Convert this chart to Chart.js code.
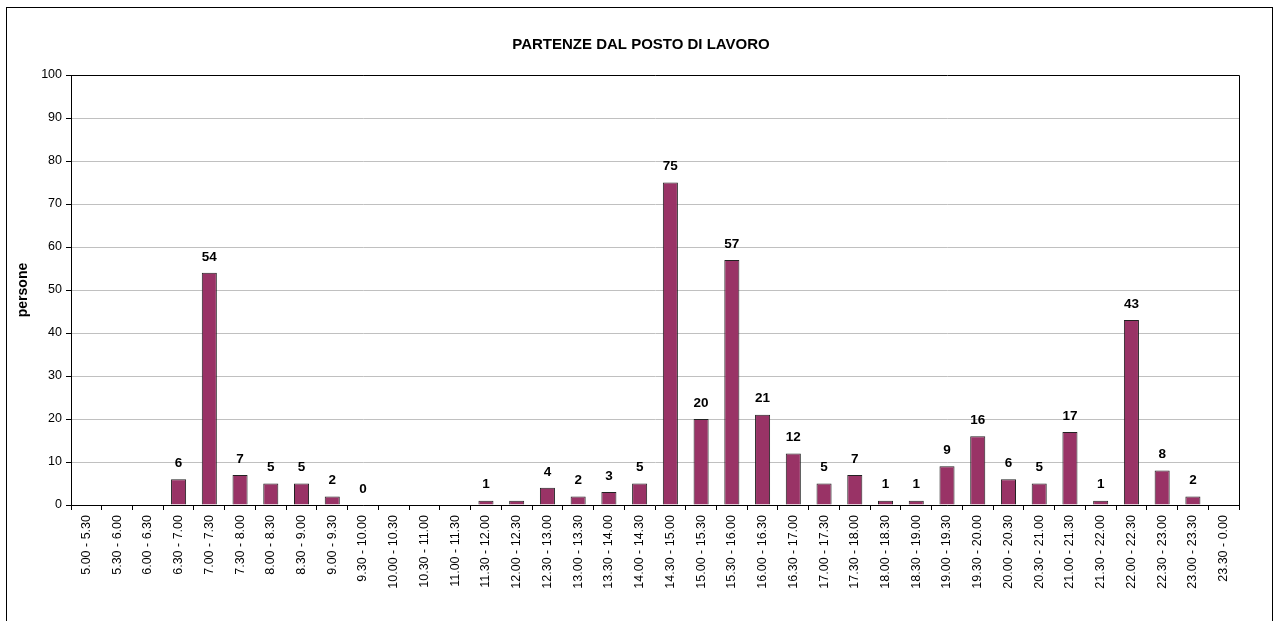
<!DOCTYPE html>
<html>
<head>
<meta charset="utf-8">
<script src="https://cdn.jsdelivr.net/npm/chart.js@4"></script>
<style>
  html, body { margin: 0; padding: 0; background: #fff; overflow: hidden; }
  #frame { position: absolute; left: 6px; top: 7px; width: 1265px; height: 640px; border: 1px solid #000; }
  #chart-departures { position: absolute; left: 0; top: 0; }
</style>
</head>
<body>
<div id="frame"></div>
<canvas id="chart-departures" width="1276" height="621"></canvas>
<script>
const timeSlots = [
  '5.00 - 5.30', '5.30 - 6.00', '6.00 - 6.30', '6.30 - 7.00', '7.00 - 7.30', '7.30 - 8.00',
  '8.00 - 8.30', '8.30 - 9.00', '9.00 - 9.30', '9.30 - 10.00', '10.00 - 10.30', '10.30 - 11.00',
  '11.00 - 11.30', '11.30 - 12.00', '12.00 - 12.30', '12.30 - 13.00', '13.00 - 13.30', '13.30 - 14.00',
  '14.00 - 14.30', '14.30 - 15.00', '15.00 - 15.30', '15.30 - 16.00', '16.00 - 16.30', '16.30 - 17.00',
  '17.00 - 17.30', '17.30 - 18.00', '18.00 - 18.30', '18.30 - 19.00', '19.00 - 19.30', '19.30 - 20.00',
  '20.00 - 20.30', '20.30 - 21.00', '21.00 - 21.30', '21.30 - 22.00', '22.00 - 22.30', '22.30 - 23.00',
  '23.00 - 23.30', '23.30 - 0.00'
];
const people = [
  null, null, null, 6, 54, 7,
  5, 5, 2, 0, null, null,
  null, 1, 1, 4, 2, 3,
  5, 75, 20, 57, 21, 12,
  5, 7, 1, 1, 9, 16,
  6, 5, 17, 1, 43, 8,
  2, null
];
// labels printed above the bars ('' = no label in the original)
const valueLabels = [
  '', '', '', '6', '54', '7',
  '5', '5', '2', '0', '', '',
  '', '1', '', '4', '2', '3',
  '5', '75', '20', '57', '21', '12',
  '5', '7', '1', '1', '9', '16',
  '6', '5', '17', '1', '43', '8',
  '2', ''
];
const yMin = 0, yMax = 100, yStep = 10;

const FONT = "'Liberation Sans', Arial, sans-serif";

const plotFrame = {
  id: 'plotFrame',
  beforeDatasetsDraw(chart) {
    const {ctx, chartArea: a} = chart;
    ctx.save();
    ctx.strokeStyle = '#000';
    ctx.lineWidth = 1;
    ctx.beginPath();
    ctx.moveTo(a.left, a.top + 0.5);
    ctx.lineTo(a.right + 0.5, a.top + 0.5);
    ctx.lineTo(a.right + 0.5, a.bottom);
    ctx.stroke();
    ctx.restore();
  }
};

const chartTitle = {
  id: 'chartTitle',
  afterDraw(chart) {
    const ctx = chart.ctx;
    ctx.save();
    ctx.font = 'bold 15px ' + FONT;
    ctx.fillStyle = '#000';
    ctx.textAlign = 'center';
    ctx.textBaseline = 'middle';
    ctx.fillText('PARTENZE DAL POSTO DI LAVORO', 641, 45);
    ctx.restore();
  }
};

const barValues = {
  id: 'barValues',
  afterDatasetsDraw(chart) {
    const ctx = chart.ctx;
    const meta = chart.getDatasetMeta(0);
    ctx.save();
    ctx.font = 'bold 13.5px ' + FONT;
    ctx.fillStyle = '#000';
    ctx.textAlign = 'center';
    ctx.textBaseline = 'middle';
    meta.data.forEach((bar, i) => {
      if (!valueLabels[i] || people[i] === null) return;
      ctx.fillText(valueLabels[i], bar.x, bar.y - 16);
    });
    ctx.restore();
  }
};

new Chart(document.getElementById('chart-departures'), {
  type: 'bar',
  data: {
    labels: timeSlots,
    datasets: [{
      data: people,
      backgroundColor: '#993366',
      borderColor: '#222',
      borderWidth: 1,
      borderSkipped: 'bottom',
      barPercentage: 0.49,
      categoryPercentage: 1
    }]
  },
  options: {
    responsive: false,
    animation: false,
    layout: { padding: { top: 75, right: 37, left: 0, bottom: 0 } },
    plugins: {
      legend: { display: false },
      title: { display: false },
      tooltip: { enabled: false }
    },
    scales: {
      x: {
        afterFit: (s) => { s.height = 116; },
        grid: { offset: true, drawOnChartArea: false, color: '#000', tickColor: '#000', tickLength: 5 },
        border: { color: '#000', width: 1 },
        ticks: {
          autoSkip: false, minRotation: 90, maxRotation: 90, padding: 5,
          color: '#000', font: { family: FONT, size: 12.5 }
        }
      },
      y: {
        min: yMin,
        max: yMax,
        afterFit: (s) => { s.width = 71; },
        grid: {
          color: (c) => (c.tick && c.tick.value === yMax ? 'rgba(0,0,0,0)' : '#c0c0c0'),
          tickColor: '#000',
          tickLength: 5
        },
        border: { color: '#000', width: 1 },
        ticks: { stepSize: yStep, padding: 4, color: '#000', font: { family: FONT, size: 12.5 } },
        title: {
          display: true, text: 'persone', color: '#000',
          font: { family: FONT, size: 14, weight: 'bold' },
          padding: { top: 15, bottom: 0 }
        }
      }
    }
  },
  plugins: [plotFrame, chartTitle, barValues]
});
</script>
</body>
</html>
